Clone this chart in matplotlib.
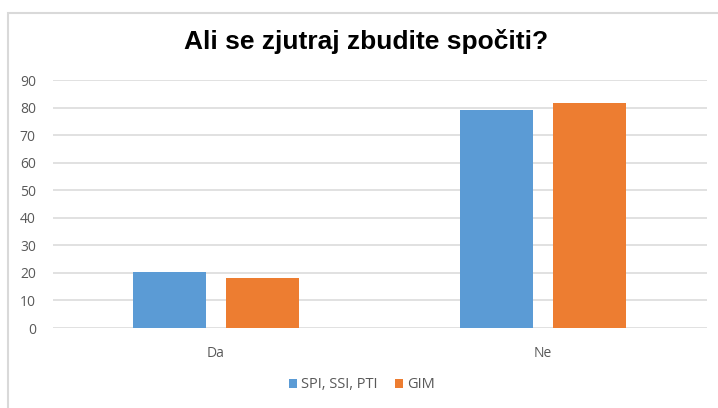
import matplotlib
matplotlib.use("Agg")
import matplotlib.pyplot as plt
import numpy as np
from matplotlib.patches import Rectangle

categories = ["Da", "Ne"]
series_names = ["SPI, SSI, PTI", "GIM"]
spi = [20.4, 79.1]
gim = [18.1, 81.8]
yticks = [0, 10, 20, 30, 40, 50, 60, 70, 80, 90]
title = "Ali se zjutraj zbudite spočiti?"

blue = "#5B9BD5"
orange = "#ED7D31"
grid_c = "#D9D9D9"
text_c = "#595959"

W, H = 718, 408
fig = plt.figure(figsize=(W / 100, H / 100), dpi=100)
ax = fig.add_axes([52.5 / W, 80 / H, (706.5 - 52.5) / W, (328 - 80) / H])

x = np.arange(len(categories))
bw = 0.223
off = 0.142
ax.bar(x - off, spi, bw, color=blue, label=series_names[0], zorder=3)
ax.bar(x + off, gim, bw, color=orange, label=series_names[1], zorder=3)

ax.set_xlim(-0.5, 1.5)
ax.set_ylim(0, 90)
ax.set_yticks(yticks)
ax.set_xticks(x)
ax.set_xticklabels(categories)
for s in ax.spines.values():
    s.set_visible(False)
ax.yaxis.grid(True, color=grid_c, linewidth=1.1, zorder=0)
ax.set_axisbelow(True)
ax.tick_params(axis="both", length=0, labelsize=10, labelcolor=text_c)
ax.tick_params(axis="y", pad=12)
ax.tick_params(axis="x", pad=13)
for lab in ax.get_xticklabels() + ax.get_yticklabels():
    lab.set_family("Open Sans")

fig.text(366 / W, 1 - 41 / H, title, ha="center", va="center",
         fontsize=19, fontweight="bold", family="Liberation Sans", color="black")

leg = fig.legend(loc="center", bbox_to_anchor=(362 / W, 1 - 385 / H), ncol=2,
                 frameon=False, handlelength=0.55, handleheight=0.55,
                 handletextpad=0.3, columnspacing=1.2,
                 prop={"family": "Open Sans", "size": 10.5})
for t in leg.get_texts():
    t.set_color(text_c)

fig.patches.append(Rectangle((7.5 / W, -0.05), 1.1, 1 - 12.5 / H + 0.05,
                             transform=fig.transFigure, fill=False,
                             edgecolor=grid_c, linewidth=1.5))

fig.savefig("out.png", dpi=100)
